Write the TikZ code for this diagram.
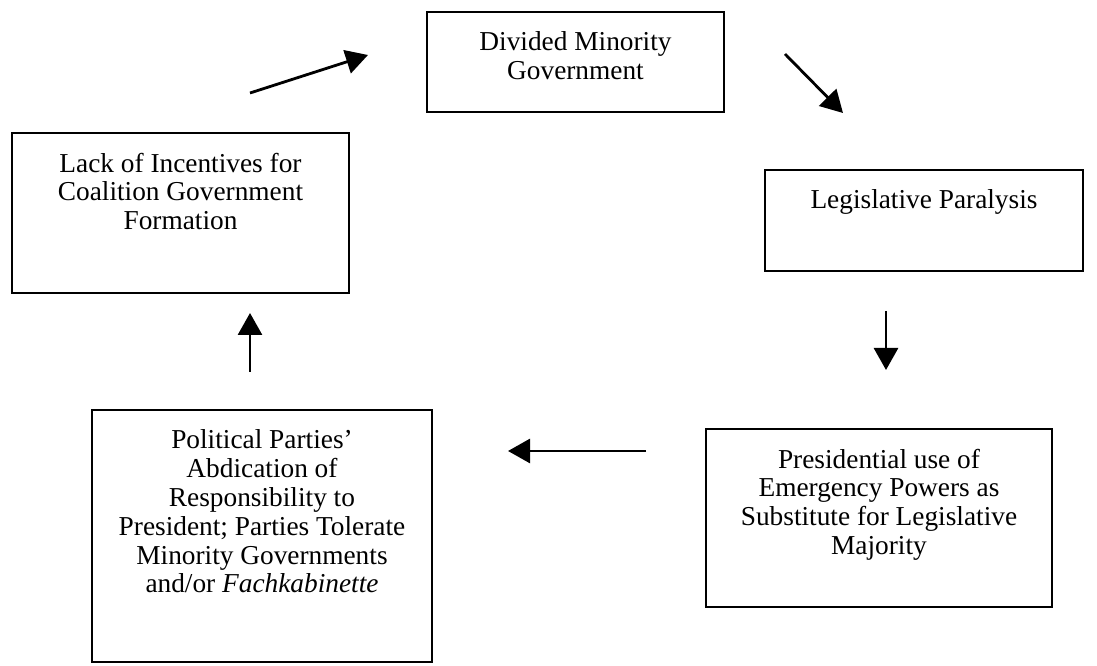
\documentclass[tikz,border=0pt]{standalone}
\usepackage{fontspec}
\setmainfont{Liberation Serif}
\usetikzlibrary{arrows.meta, positioning}

\begin{document}
\begin{tikzpicture}[x=0.75pt, y=-0.75pt,
    box/.style={draw, line width=1.5pt, inner sep=0pt},
    txt/.style={anchor=north, align=center, inner sep=0pt, yshift=-15.5pt},
    arr/.style={-{Triangle[length=16.5pt, width=18pt]}, line width=2.1pt},
    every node/.style={font=\fontsize{20.5}{21.6}\selectfont}
]
    \useasboundingbox (0,0) rectangle (1097,666);

    % Boxes of the cycle
    \node[box, minimum width=222.75pt, minimum height=75pt,
          label={[txt]north:Divided Minority\\Government}] (gov) at (575.5, 62) {};
    \node[box, minimum width=238.5pt, minimum height=75.75pt,
          label={[txt]north:Legislative Paralysis}] (paralysis) at (924, 220.5) {};
    \node[box, minimum width=259.5pt, minimum height=133.5pt,
          label={[txt]north:Presidential use of\\Emergency Powers as\\Substitute for Legislative\\Majority}] (emergency) at (879, 518) {};
    \node[box, minimum width=255pt, minimum height=189pt,
          label={[txt]north:Political Parties'\\Abdication of\\Responsibility to\\President; Parties Tolerate\\Minority Governments\\and/or \textit{Fachkabinette}}] (abdication) at (262, 536) {};
    \node[box, minimum width=252.75pt, minimum height=120pt,
          label={[txt]north:Lack of Incentives for\\Coalition Government\\Formation}] (incentives) at (180.5, 213) {};

    % Arrow ends
    \coordinate (incentivesOut) at (250, 93);
    \coordinate (govIn) at (368, 55);
    \coordinate (govOut) at (785, 54);
    \coordinate (paralysisIn) at (843, 113);
    \coordinate (paralysisOut) at (886, 311);
    \coordinate (emergencyIn) at (886, 370);
    \coordinate (emergencyOut) at (646, 451);
    \coordinate (abdicationIn) at (508, 451);
    \coordinate (abdicationOut) at (250, 372);
    \coordinate (incentivesIn) at (250, 313);

    % Arrows
    \draw[arr] (incentivesOut) -- (govIn);
    \draw[arr] (govOut) -- (paralysisIn);
    \draw[arr] (paralysisOut) -- (emergencyIn);
    \draw[arr] (emergencyOut) -- (abdicationIn);
    \draw[arr] (abdicationOut) -- (incentivesIn);
\end{tikzpicture}
\end{document}
